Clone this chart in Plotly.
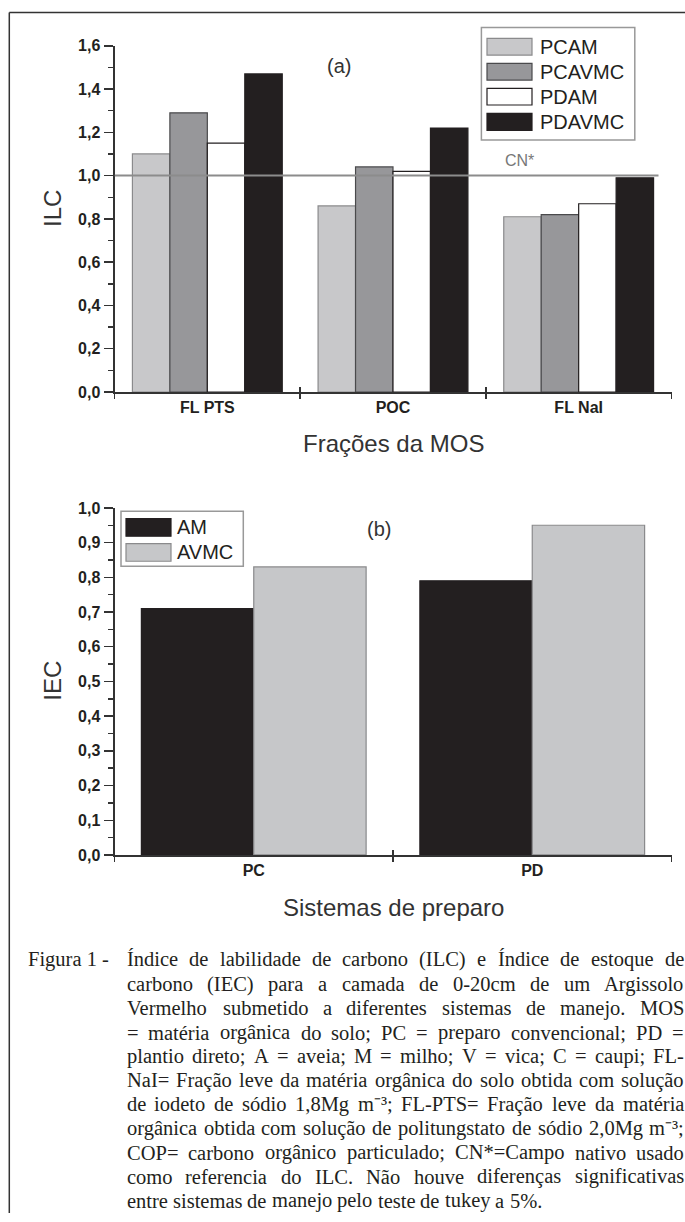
import unicodedata
import plotly.graph_objects as go

# ---------------- data ----------------
fractions = ["FL PTS", "POC", "FL NaI"]
series_a_names = ["PCAM", "PCAVMC", "PDAM", "PDAVMC"]
pcam = [1.10, 0.86, 0.81]
pcavmc = [1.29, 1.04, 0.82]
pdam = [1.15, 1.02, 0.87]
pdavmc = [1.47, 1.22, 0.99]
cn_reference = 1.0
cn_label = "CN*"

systems = ["PC", "PD"]
series_b_names = ["AM", "AVMC"]
am = [0.71, 0.79]
avmc = [0.83, 0.95]

ilc_tick_values = [0.0, 0.2, 0.4, 0.6, 0.8, 1.0, 1.2, 1.4, 1.6]
ilc_tick_labels = ["0,0", "0,2", "0,4", "0,6", "0,8", "1,0", "1,2", "1,4", "1,6"]
iec_tick_values = [0.0, 0.1, 0.2, 0.3, 0.4, 0.5, 0.6, 0.7, 0.8, 0.9, 1.0]
iec_tick_labels = ["0,0", "0,1", "0,2", "0,3", "0,4", "0,5", "0,6", "0,7", "0,8", "0,9", "1,0"]

title_a_x = "Frações da MOS"
title_a_y = "ILC"
title_b_x = "Sistemas de preparo"
title_b_y = "IEC"

caption_head = "Figura 1 -"
caption_lines = [
    "Índice de labilidade de carbono (ILC) e Índice de estoque de",
    "carbono (IEC) para a camada de 0-20cm de um Argissolo",
    "Vermelho submetido a diferentes sistemas de manejo. MOS",
    "= matéria orgânica do solo; PC = preparo convencional; PD =",
    "plantio direto; A = aveia; M = milho; V = vica; C = caupi; FL-",
    "NaI= Fração leve da matéria orgânica do solo obtida com solução",
    "de iodeto de sódio 1,8Mg m⁻³; FL-PTS= Fração leve da matéria",
    "orgânica obtida com solução de politungstato de sódio 2,0Mg m⁻³;",
    "COP= carbono orgânico particulado; CN*=Campo nativo usado",
    "como referencia do ILC. Não houve diferenças significativas",
    "entre sistemas de manejo pelo teste de tukey a 5%.",
]

# ---------------- style ----------------
W, H = 685, 1222
# the page is photographed with an 8px top offset and a slight vertical squeeze;
# positions below are given in target-picture pixels and mapped accordingly
V_SCALE = 1222 / 1238
V_OFFSET = 8
SANS = "Liberation Sans, Arial, sans-serif"
SERIF = "Liberation Serif, Times New Roman, serif"
INK = "#231f20"
AXIS = "#333333"

fill_a = ["#c8c8ca", "#97979a", "#ffffff", "#231f20"]
edge_a = ["#8a8a8c", "#4a4a4c", "#231f20", "#231f20"]
fill_b = ["#231f20", "#c6c7c9"]
edge_b = ["#231f20", "#8a8a8c"]


def px(x):
    return x / W


def py(y):
    return 1 - (y / V_SCALE - V_OFFSET) / H


fig = go.Figure()

for name, vals, fc, ec in zip(series_a_names, [pcam, pcavmc, pdam, pdavmc], fill_a, edge_a):
    fig.add_trace(go.Bar(x=fractions, y=vals, name=name, xaxis="x", yaxis="y",
                         marker=dict(color=fc, line=dict(color=ec, width=1.2)),
                         showlegend=False))

for name, vals, fc, ec in zip(series_b_names, [am, avmc], fill_b, edge_b):
    fig.add_trace(go.Bar(x=systems, y=vals, name=name, xaxis="x2", yaxis="y2",
                         marker=dict(color=fc, line=dict(color=ec, width=1.2)),
                         showlegend=False))

# empty traces so the overlay axes (upward half of the crossing ticks) render
fig.add_trace(go.Scatter(x=[], y=[], xaxis="x3", yaxis="y", showlegend=False))
fig.add_trace(go.Scatter(x=[], y=[], xaxis="x4", yaxis="y2", showlegend=False))

bounds_a = [i - 0.5 for i in range(len(fractions) + 1)]
bounds_b = [i - 0.5 for i in range(len(systems) + 1)]

xdom = [px(114.5), px(671.5)]
common_x = dict(showline=True, linewidth=2, linecolor=AXIS, showgrid=False, zeroline=False,
                ticks="outside", ticklen=5, tickwidth=1.5, tickcolor=AXIS,
                tickfont=dict(family=SANS, size=16, color=INK, weight="bold"))
common_y = dict(showline=True, linewidth=2, linecolor=AXIS, showgrid=False, zeroline=False,
                ticks="outside", ticklen=9, tickwidth=1.5, tickcolor=AXIS,
                tickfont=dict(family=SANS, size=16, color=INK, weight="bold"))

minor_a = [(a + b) / 2 for a, b in zip(ilc_tick_values[:-1], ilc_tick_values[1:])]
minor_b = [(a + b) / 2 for a, b in zip(iec_tick_values[:-1], iec_tick_values[1:])]

fig.update_layout(
    width=W, height=H, autosize=False,
    margin=dict(l=0, r=0, t=0, b=0),
    paper_bgcolor="white", plot_bgcolor="rgba(0,0,0,0)",
    barmode="group", bargap=0.193, bargroupgap=0,
    xaxis=dict(common_x, domain=xdom, anchor="y", type="category",
               categoryorder="array", categoryarray=fractions,
               range=[-0.5, len(fractions) - 0.5], tickson="boundaries"),
    yaxis=dict(common_y, domain=[py(392.3), py(45.7)], anchor="x",
               range=[0, max(ilc_tick_values)], tickvals=ilc_tick_values,
               ticktext=ilc_tick_labels,
               minor=dict(tickvals=minor_a, ticks="outside", ticklen=5,
                          tickwidth=1.5, tickcolor=AXIS)),
    xaxis2=dict(common_x, domain=xdom, anchor="y2", type="category",
                categoryorder="array", categoryarray=systems,
                range=[-0.5, len(systems) - 0.5], tickson="boundaries"),
    yaxis2=dict(common_y, domain=[py(855.7), py(508.3)], anchor="x2",
                range=[0, max(iec_tick_values)], tickvals=iec_tick_values,
                ticktext=iec_tick_labels,
                minor=dict(tickvals=minor_b, ticks="outside", ticklen=5,
                           tickwidth=1.5, tickcolor=AXIS)),
    xaxis3=dict(overlaying="x", anchor="y", range=[-0.5, len(fractions) - 0.5],
                tickvals=bounds_a, ticks="inside", ticklen=5, tickwidth=1.5,
                tickcolor=AXIS, showticklabels=False, showline=False,
                showgrid=False, zeroline=False),
    xaxis4=dict(overlaying="x2", anchor="y2", range=[-0.5, len(systems) - 0.5],
                tickvals=bounds_b, ticks="inside", ticklen=5, tickwidth=1.5,
                tickcolor=AXIS, showticklabels=False, showline=False,
                showgrid=False, zeroline=False),
)

shapes = []
annotations = []


def note(text, x, y, size, family=SANS, color="#333333", xanchor="center",
         yanchor="middle", angle=0):
    annotations.append(dict(text=text, x=px(x), y=py(y), xref="paper", yref="paper",
                            xanchor=xanchor, yanchor=yanchor, showarrow=False,
                            borderpad=0, textangle=angle,
                            font=dict(family=family, size=size, color=color)))


# reference line CN*
shapes.append(dict(type="line", xref="x", yref="y", x0=-0.5, x1=len(fractions) - 0.57,
                   y0=cn_reference, y1=cn_reference, layer="above",
                   line=dict(color="#8c8c8c", width=2)))
note(cn_label, 519, 161, 16, color="#777777")

# frame (top and left border)
shapes.append(dict(type="line", xref="paper", yref="paper", x0=px(9.3), x1=1,
                   y0=py(12.3), y1=py(12.3), line=dict(color=AXIS, width=1.5)))
shapes.append(dict(type="line", xref="paper", yref="paper", x0=px(9.3), x1=px(9.3),
                   y0=py(12.3), y1=0, line=dict(color=AXIS, width=1.5)))


def legend_box(box, sw_x, rows, names, fills, edges, text_x):
    shapes.append(dict(type="rect", xref="paper", yref="paper",
                       x0=px(box[0]), x1=px(box[2]), y0=py(box[1]), y1=py(box[3]),
                       line=dict(color="#999999", width=1.5), fillcolor="white", layer="above"))
    for (top, bot), name, fc, ec in zip(rows, names, fills, edges):
        shapes.append(dict(type="rect", xref="paper", yref="paper",
                           x0=px(sw_x[0]), x1=px(sw_x[1]), y0=py(top), y1=py(bot),
                           line=dict(color=ec, width=1.2), fillcolor=fc, layer="above"))
        note(name, text_x, (top + bot) / 2, 20, color=INK, xanchor="left")


legend_box((481.4, 27.3, 634.8, 140), (487, 532),
           [(38.3, 55), (63.3, 80), (88.3, 105), (113.3, 130.5)],
           series_a_names, fill_a, edge_a, 538.5)
legend_box((121, 511.7, 243.3, 566.7), (126, 171),
           [(519, 536.7), (544, 561.7)],
           series_b_names, fill_b, edge_b, 176.5)

# panel letters and axis titles
note("(a)", 338.5, 66, 20)
note("(b)", 379, 529, 20)
note(title_a_x, 393, 444, 24)
note(title_b_x, 393, 908, 24)
note(title_a_y, 52.5, 208.5, 24, angle=-90)
note(title_b_y, 52.5, 681.7, 24, angle=-90)

# ---------------- caption (justified, word by word) ----------------
TIMES = {" ": 250, "!": 333, "(": 333, ")": 333, "*": 500, "+": 564, ",": 250, "-": 333,
         ".": 250, "/": 278, ":": 278, ";": 278, "=": 564, "%": 833, "⁻": 333, "³": 300,
         "A": 722, "B": 667, "C": 667, "D": 722, "E": 611, "F": 556, "G": 722, "H": 722,
         "I": 333, "J": 389, "K": 722, "L": 611, "M": 889, "N": 722, "O": 722, "P": 556,
         "Q": 722, "R": 667, "S": 556, "T": 611, "U": 722, "V": 722, "W": 944, "X": 722,
         "Y": 722, "Z": 611,
         "a": 444, "b": 500, "c": 444, "d": 500, "e": 444, "f": 333, "g": 500, "h": 500,
         "i": 278, "j": 278, "k": 500, "l": 278, "m": 778, "n": 500, "o": 500, "p": 500,
         "q": 500, "r": 333, "s": 389, "t": 278, "u": 500, "v": 500, "w": 722, "x": 500,
         "y": 500, "z": 444}


def cw(c):
    if c in TIMES:
        return TIMES[c]
    base = unicodedata.normalize("NFD", c)[0]
    return TIMES.get(base, 500)


def text_width(s, size):
    return sum(cw(c) for c in s) * size / 1000.0


CAP_SIZE = 20.5
CAP_LEFT, CAP_RIGHT = 125.5, 683.0
line_y = [958.3, 983.3, 1007.3, 1031.7, 1055, 1079.3, 1103.3, 1127.3, 1151.7, 1176, 1200]
Y_SHIFT = 2

note(caption_head, 27, line_y[0] + Y_SHIFT, CAP_SIZE, family=SERIF, color=INK, xanchor="left")

for i, (line, yy) in enumerate(zip(caption_lines, line_y)):
    words = line.split(" ")
    widths = [text_width(w, CAP_SIZE) for w in words]
    if i == len(caption_lines) - 1 or len(words) == 1:
        gap = text_width(" ", CAP_SIZE)
    else:
        gap = (CAP_RIGHT - CAP_LEFT - sum(widths)) / (len(words) - 1)
    x = CAP_LEFT
    for w, wd in zip(words, widths):
        note(w, x, yy + Y_SHIFT, CAP_SIZE, family=SERIF, color=INK, xanchor="left")
        x += wd + gap

fig.update_layout(shapes=shapes, annotations=annotations)
fig.write_html(
    "out.html",
    config={"displayModeBar": False, "staticPlot": True},
    post_script=("document.documentElement.style.margin='0';"
                 "document.documentElement.style.padding='0';"
                 "document.body.style.margin='0';"
                 "document.body.style.padding='0';"
                 "document.body.style.overflow='hidden';"),
)
